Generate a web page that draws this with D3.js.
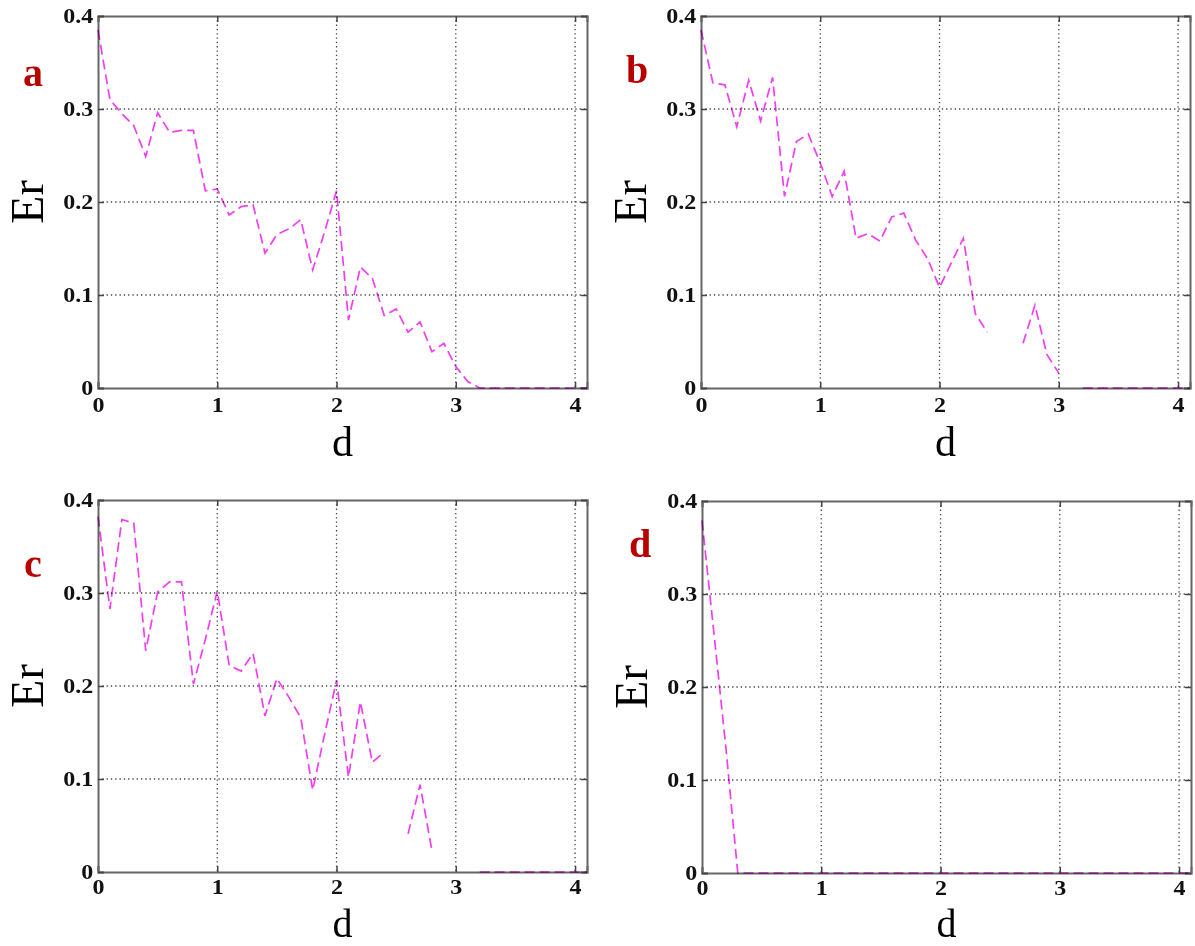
<!DOCTYPE html>
<html>
<head>
<meta charset="utf-8">
<script src="https://cdn.jsdelivr.net/npm/d3@7"></script>
<style>
  body { margin: 0; background: #fff; }
  svg { display: block; }
  text { font-family: "Liberation Serif", "Times New Roman", serif; }
</style>
</head>
<body>
<div id="chart"></div>
<script>
const WIDTH = 1195
const HEIGHT = 946

// d values (x axis), sampled every 0.1
const dValues = [0.0, 0.1, 0.2, 0.3, 0.4, 0.5, 0.6, 0.7, 0.8, 0.9,
  1.0, 1.1, 1.2, 1.3, 1.4, 1.5, 1.6, 1.7, 1.8, 1.9,
  2.0, 2.1, 2.2, 2.3, 2.4, 2.5, 2.6, 2.7, 2.8, 2.9,
  3.0, 3.1, 3.2, 3.3, 3.4, 3.5, 3.6, 3.7, 3.8, 3.9,
  4.0, 4.1]

// Er per panel, null = gap in the curve
const erA = [0.385, 0.310, 0.295, 0.282, 0.249, 0.296, 0.275, 0.277, 0.277, 0.212,
  0.214, 0.186, 0.195, 0.197, 0.145, 0.165, 0.171, 0.181, 0.127, 0.168,
  0.212, 0.073, 0.130, 0.118, 0.078, 0.085, 0.060, 0.071, 0.039, 0.048,
  0.023, 0.007, 0, 0, 0, 0, 0, 0, 0, 0,
  0, 0]
const erB = [0.385, 0.328, 0.326, 0.281, 0.331, 0.287, 0.334, 0.206, 0.265, 0.273,
  0.242, 0.206, 0.233, 0.161, 0.166, 0.158, 0.184, 0.188, 0.159, 0.139,
  0.108, 0.135, 0.161, 0.080, 0.060, null, null, 0.048, 0.089, 0.036,
  0.016, null, 0, 0, 0, 0, 0, 0, 0, 0,
  0, 0]
const erC = [0.382, 0.283, 0.379, 0.375, 0.238, 0.301, 0.312, 0.312, 0.202, 0.250,
  0.302, 0.222, 0.216, 0.235, 0.168, 0.208, 0.188, 0.166, 0.088, 0.148,
  0.206, 0.102, 0.183, 0.118, 0.129, null, 0.041, 0.094, 0.023, null,
  null, null, 0, 0, 0, 0, 0, 0, 0, 0,
  0, 0]
const erD = [0.379, 0.258, 0.135, 0, 0, 0, 0, 0, 0, 0,
  0, 0, 0, 0, 0, 0, 0, 0, 0, 0,
  0, 0, 0, 0, 0, 0, 0, 0, 0, 0,
  0, 0, 0, 0, 0, 0, 0, 0, 0, 0,
  0, 0]

const panelNames = ['a', 'b', 'c', 'd']
const panelSeries = [erA, erB, erC, erD]
const xTicks = [0, 1, 2, 3, 4]
const yTicks = [0, 0.1, 0.2, 0.3, 0.4]
const yTickLabels = ['0', '0.1', '0.2', '0.3', '0.4']

const panels = [
  {left: 98, top: 16, letterX: 33, letterY: 86, dY: 68, dSize: 42, pad: 10},
  {left: 701, top: 16, letterX: 637, letterY: 83, dY: 68, dSize: 42, pad: 10},
  {left: 98, top: 500, letterX: 33, letterY: 577, dY: 65, dSize: 40, pad: 8},
  {left: 702, top: 501, letterX: 640, letterY: 557, dY: 64, dSize: 40, pad: 8},
]
const PW = 489
const PH = 372

const svg = d3.select('#chart').append('svg').attr('width', WIDTH).attr('height', HEIGHT)

panels.forEach((p, i) => {
  const g = svg.append('g').attr('transform', `translate(${p.left},${p.top})`)
  const x = d3.scaleLinear().domain([0, 4.1]).range([0, PW])
  const y = d3.scaleLinear().domain([0, 0.4]).range([PH, 0])

  // dotted grid
  g.append('g').selectAll('line')
    .data(xTicks.filter(t => t > 0))
    .enter().append('line')
    .attr('x1', d => x(d)).attr('x2', d => x(d))
    .attr('y1', 0).attr('y2', PH)
    .attr('stroke', '#444').attr('stroke-width', 1.3)
    .attr('stroke-dasharray', '1.3,3')
  g.append('g').selectAll('line')
    .data(yTicks.filter(t => t > 0 && t < 0.4))
    .enter().append('line')
    .attr('x1', 0).attr('x2', PW)
    .attr('y1', d => y(d)).attr('y2', d => y(d))
    .attr('stroke', '#444').attr('stroke-width', 1.3)
    .attr('stroke-dasharray', '1.3,3')

  // axes (ticks inward on all four sides)
  g.append('g').attr('class', 'ax')
    .attr('transform', `translate(0,${PH})`)
    .call(d3.axisBottom(x).tickValues(xTicks).tickSize(-6).tickPadding(p.pad).tickFormat(d3.format('d')))
  g.append('g').attr('class', 'ax')
    .call(d3.axisTop(x).tickValues(xTicks).tickSize(-6).tickFormat(''))
  g.append('g').attr('class', 'ax')
    .call(d3.axisLeft(y).tickValues(yTicks).tickSize(-6).tickPadding(4)
      .tickFormat((d, k) => yTickLabels[k]))
  g.append('g').attr('class', 'ax')
    .attr('transform', `translate(${PW},0)`)
    .call(d3.axisRight(y).tickValues(yTicks).tickSize(-6).tickFormat(''))

  g.selectAll('.ax path').attr('stroke', '#666').attr('stroke-width', 2)
  g.selectAll('.ax line').attr('stroke', '#444').attr('stroke-width', 1.5)
  g.selectAll('.ax text')
    .attr('fill', '#111')
    .attr('transform', 'scale(1.2,1)')
    .style('font-size', '20px')
    .style('font-weight', 'bold')
    .style('font-family', '"Liberation Serif", "Times New Roman", serif')

  // curve
  const line = d3.line()
    .defined(d => d[1] !== null)
    .x(d => x(d[0]))
    .y(d => y(d[1]))
  const pts = dValues.map((d, k) => [d, panelSeries[i][k]])
  g.append('path')
    .datum(pts)
    .attr('d', line)
    .attr('fill', 'none')
    .attr('stroke', '#f23ef2')
    .attr('stroke-width', 1.7)
    .attr('stroke-dasharray', '10,5')
    .style('mix-blend-mode', 'multiply')

  // axis titles
  g.append('text')
    .attr('transform', `translate(${-71},${PH / 2}) rotate(-90)`)
    .attr('text-anchor', 'middle')
    .attr('dy', '0.35em')
    .style('font-size', '46px')
    .text('Er')
  g.append('text')
    .attr('x', PW / 2)
    .attr('y', PH + p.dY)
    .attr('text-anchor', 'middle')
    .style('font-size', `${p.dSize}px`)
    .text('d')

  // panel letter
  svg.append('text')
    .attr('x', p.letterX)
    .attr('y', p.letterY)
    .attr('text-anchor', 'middle')
    .attr('fill', '#b80000')
    .style('font-size', '40px')
    .style('font-weight', 'bold')
    .text(panelNames[i])
})
</script>
</body>
</html>
